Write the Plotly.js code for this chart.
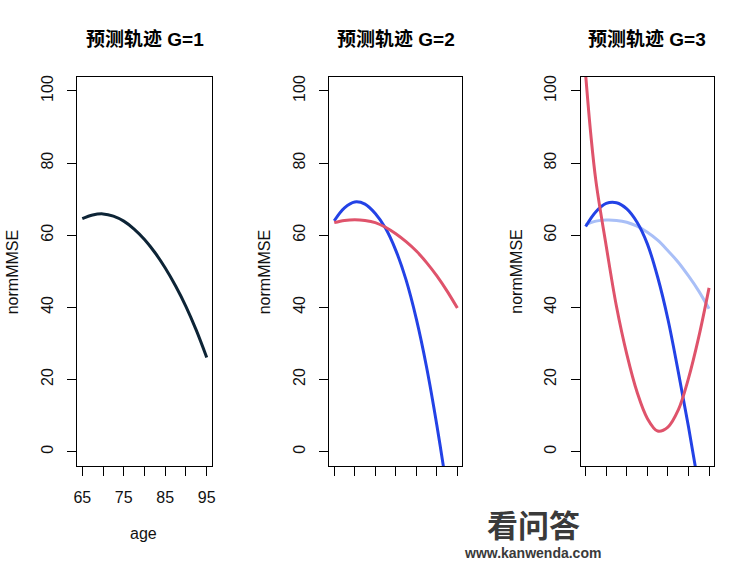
<!DOCTYPE html>
<html>
<head>
<meta charset="utf-8">
<script src="https://cdn.plot.ly/plotly-3.0.1.min.js"></script>
<style>html,body{margin:0;padding:0;background:#fff;}#chart{width:754px;height:563px;}</style>
</head>
<body>
<div id="chart"></div>
<script>
// ---- data ----
const ages = [65, 67.5, 70, 72.5, 75, 77.5, 80, 82.5, 85, 87.5, 90, 92.5, 95];
const g1_class1 = [64.6, 65.6, 65.9, 65.3, 63.9, 61.7, 58.8, 55.2, 50.9, 45.9, 40.2, 33.6, 26.1];
const g2_class1 = [64.0, 67.6, 69.2, 68.6, 66.0, 61.9, 55.8, 47.6, 36.8, 23.4, 7.3, -11, -32];
const g2_class2 = [63.5, 64.1, 64.3, 64.1, 63.5, 62.2, 60.4, 58.2, 55.6, 52.4, 48.7, 44.5, 39.8];
const g3_class1 = [62.4, 66.5, 68.8, 69.0, 67.3, 63.6, 57.6, 48.4, 36.7, 22.2, 6.9, -9.8, -28.5];
const g3_class2 = [62.9, 63.9, 64.2, 64.1, 63.6, 62.5, 60.8, 58.6, 55.7, 52.5, 48.7, 44.5, 39.6];
const ages_g3_class3 = [65, 66.25, 67.5, 70, 72.5, 75, 77.5, 80, 82.5, 85, 87.5, 90, 92.5, 95];
const g3_class3 = [104.5, 88, 75.0, 57.0, 40.2, 27.0, 16.5, 9.2, 5.7, 6.8, 11.5, 20.3, 31.8, 45.4];
const panelTitles = ["预测轨迹 G=1", "预测轨迹 G=2", "预测轨迹 G=3"];
const xTickVals = [65, 70, 75, 80, 85, 90, 95];
const xTickText = ["65", "", "75", "", "85", "", "95"];
const yTickVals = [0, 20, 40, 60, 80, 100];
const yLabel = "normMMSE";
const xLabel = "age";
const watermark = ["看问答", "www.kanwenda.com"];

// ---- styling ----
const W = 754, H = 563;
const cDark = "#0d2436", cBlue = "#2342e6", cRed = "#df536b", cLight = "#a9bff7";
const boxes = [[77.3, 211.7], [329.3, 462.3], [580.7, 714]];
const boxTop = 76.5, boxBot = 466;
const font = "Arial, 'Liberation Sans', sans-serif";
const px = x => x / W, py = y => 1 - y / H;

function line(x, y, color, xa, ya) {
  return {x: x, y: y, type: "scatter", mode: "lines", xaxis: xa, yaxis: ya,
          line: {color: color, width: 3, shape: "spline", smoothing: 1}, showlegend: false, hoverinfo: "skip"};
}
const data = [
  line(ages, g1_class1, cDark, "x", "y"),
  line(ages, g2_class1, cBlue, "x2", "y2"),
  line(ages, g2_class2, cRed, "x2", "y2"),
  line(ages, g3_class2, cLight, "x3", "y3"),
  line(ages, g3_class1, cBlue, "x3", "y3"),
  line(ages_g3_class3, g3_class3, cRed, "x3", "y3")
];

function xax(i, labels) {
  return {domain: [px(boxes[i][0]), px(boxes[i][1])], range: [63.8, 96.2], anchor: i === 0 ? "y" : "y" + (i + 1),
    tickmode: "array", tickvals: xTickVals, ticktext: labels ? xTickText : xTickVals.map(() => ""),
    ticks: "outside", ticklen: 9, tickwidth: 1, tickcolor: "#000", showline: true, mirror: true,
    linecolor: "#000", linewidth: 1, showgrid: false, zeroline: false, ticklabelstandoff: 8,
    tickfont: {family: font, size: 16, color: "#111"}, fixedrange: true};
}
function yax(i) {
  return {domain: [py(boxBot), py(boxTop)], range: [-4, 104], anchor: i === 0 ? "x" : "x" + (i + 1),
    tickmode: "array", tickvals: yTickVals, ticktext: yTickVals.map(String), tickangle: -90,
    ticks: "outside", ticklen: 9, tickwidth: 1, tickcolor: "#000", showline: true, mirror: true,
    linecolor: "#000", linewidth: 1, showgrid: false, zeroline: false, ticklabelstandoff: 8,
    tickfont: {family: font, size: 16, color: "#111"}, fixedrange: true};
}

const annotations = [];
for (let i = 0; i < 3; i++) {
  annotations.push({text: "<b>" + panelTitles[i] + "</b>", xref: "paper", yref: "paper",
    x: px((boxes[i][0] + boxes[i][1]) / 2), y: py(39), xanchor: "center", yanchor: "middle", showarrow: false,
    font: {family: "Arial, 'Noto Sans CJK SC', sans-serif", size: 19, color: "#000"}});
  annotations.push({text: yLabel, xref: "paper", yref: "paper", textangle: -90,
    x: px(boxes[i][0] - 65), y: py(272), xanchor: "center", yanchor: "middle", showarrow: false,
    font: {family: font, size: 16, color: "#111"}});
}
annotations.push({text: xLabel, xref: "paper", yref: "paper", x: px(143), y: py(533),
  xanchor: "center", yanchor: "middle", showarrow: false, font: {family: font, size: 16, color: "#111"}});
// watermark text
annotations.push({text: "<b>" + watermark[0] + "</b>", xref: "paper", yref: "paper", x: px(533), y: py(523),
  xanchor: "center", yanchor: "middle", showarrow: false, font: {family: "'Noto Sans CJK SC', sans-serif", size: 31, color: "#3a3a3a"}});
annotations.push({text: "<b>" + watermark[1] + "</b>", xref: "paper", yref: "paper", x: px(532), y: py(553),
  xanchor: "center", yanchor: "middle", showarrow: false, font: {family: "Arial, 'Liberation Sans', sans-serif", size: 14, color: "#3a3a3a"}});

const layout = {
  width: W, height: H, margin: {l: 0, r: 0, t: 0, b: 0, autoexpand: false},
  paper_bgcolor: "#fff", plot_bgcolor: "#fff", showlegend: false,
  xaxis: xax(0, true), xaxis2: xax(1, false), xaxis3: xax(2, false),
  yaxis: yax(0), yaxis2: yax(1), yaxis3: yax(2),
  annotations: annotations
};
Plotly.newPlot("chart", data, layout, {displayModeBar: false, staticPlot: true});
</script>
</body>
</html>
